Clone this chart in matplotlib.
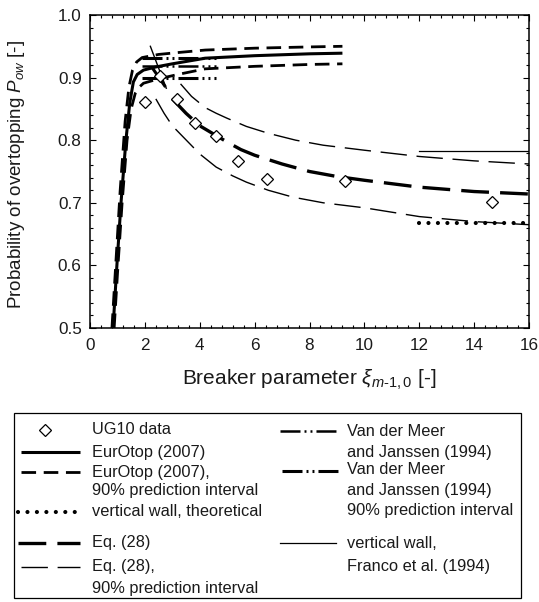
import matplotlib
matplotlib.use('Agg')
import matplotlib.pyplot as plt
from matplotlib.lines import Line2D
from matplotlib.patches import Rectangle
from matplotlib.ticker import MultipleLocator, FormatStrFormatter

plt.rcParams['font.family'] = ['Liberation Sans', 'DejaVu Sans']
plt.rcParams['mathtext.fontset'] = 'custom'
plt.rcParams['mathtext.rm'] = 'Liberation Sans'
plt.rcParams['mathtext.it'] = 'Liberation Sans:italic'
plt.rcParams['lines.scale_dashes'] = False

TXT = "#1a1a1a"

# --- data ---
ug10_x = [2.0, 2.55, 3.17, 3.83, 4.6, 5.4, 6.45, 9.3, 14.65]
ug10_y = [0.861, 0.903, 0.866, 0.827, 0.807, 0.767, 0.738, 0.735, 0.701]

# EurOtop (2007) central + 90% interval
euro_x = [0.84, 0.98, 1.13, 1.31, 1.45, 1.58, 1.72, 1.95, 2.4, 3.0, 4.2, 6.0, 8.0, 9.2]
euro_y = [0.50, 0.60, 0.70, 0.80, 0.86, 0.893, 0.905, 0.912, 0.917, 0.922, 0.931, 0.935, 0.938, 0.939]
euro_up_x = [0.80, 0.95, 1.10, 1.28, 1.42, 1.55, 1.70, 1.90, 2.5, 3.2, 4.2, 6.0, 8.0, 9.2]
euro_up_y = [0.50, 0.61, 0.72, 0.83, 0.885, 0.912, 0.925, 0.932, 0.937, 0.940, 0.944, 0.947, 0.949, 0.950]
euro_lo_x = [0.88, 1.02, 1.17, 1.35, 1.50, 1.65, 1.80, 1.95, 2.5, 3.2, 4.2, 6.0, 8.0, 9.2]
euro_lo_y = [0.50, 0.60, 0.70, 0.80, 0.85, 0.875, 0.885, 0.891, 0.898, 0.905, 0.914, 0.918, 0.921, 0.922]

# vertical wall, theoretical / Franco et al. (1994)
wall_x = [12, 16]
wall_theory_y = [0.668, 0.668]
wall_franco_y = [0.783, 0.783]

# Eq. (28) central + 90% interval
eq28_x = [3.0, 3.5, 4.0, 4.5, 5.0, 5.5, 6.0, 7.0, 8.0, 9.0, 10, 12, 14, 16]
eq28_y = [0.866, 0.843, 0.823, 0.810, 0.797, 0.785, 0.776, 0.762, 0.750, 0.742, 0.736, 0.725, 0.718, 0.714]
eq28_up_x = [3.3, 3.7, 4.2, 4.6, 5.0, 5.7, 6.5, 7.5, 8.5, 10, 12, 14, 16]
eq28_up_y = [0.890, 0.870, 0.852, 0.843, 0.835, 0.822, 0.811, 0.800, 0.792, 0.784, 0.774, 0.767, 0.762]
eq28_lo_x = [2.4, 2.7, 3.0, 3.4, 4.0, 4.6, 5.2, 5.7, 6.5, 7.4, 8.5, 10, 12, 14, 16]
eq28_lo_y = [0.866, 0.843, 0.823, 0.805, 0.778, 0.757, 0.743, 0.733, 0.720, 0.709, 0.700, 0.692, 0.678, 0.670, 0.665]

# Van der Meer and Janssen (1994) central + 90% interval
vdm_x = [1.9, 4.6]
vdm_y = [0.918, 0.918]
vdm_up_y = [0.932, 0.932]
vdm_lo_y = [0.900, 0.900]
vdm_fall_x = [2.2, 2.78]
vdm_fall_y = [0.950, 0.883]
vdm_fall2_x = [2.28, 2.72]
vdm_fall2_y = [0.915, 0.887]

# --- line styles ---
S_EURO = dict(color='k', lw=2.2, solid_capstyle='butt')
S_EURO_CI = dict(color='k', lw=2.0, dashes=(10.5, 5.5))
S_DOT = dict(color='k', lw=3.0, dashes=(0.01, 6.8), dash_capstyle='round')
S_EQ = dict(color='k', lw=2.4, dashes=(20, 8))
S_EQ_CI = dict(color='k', lw=1.0, dashes=(19, 7))
S_VDM = dict(color='k', lw=1.8, dashes=(14.4, 2.9, 1.4, 2.9, 1.4, 2.9))
S_VDM_CI = dict(color='k', lw=2.2, dashes=(14.4, 2.9, 1.4, 2.9, 1.4, 2.9))
S_FRANCO = dict(color='k', lw=0.9)
S_DIAM = dict(ls='none', marker='D', ms=6.2, mfc='white', mec='k', mew=0.9)

W, H = 539, 602
fig = plt.figure(figsize=(W / 100, H / 100), dpi=100)
ax = fig.add_axes([90 / W, 1 - 328 / H, 439 / W, 313 / H])

ax.plot(euro_up_x, euro_up_y, **S_EURO_CI)
ax.plot(euro_lo_x, euro_lo_y, **S_EURO_CI)
ax.plot(euro_x, euro_y, **S_EURO)
ax.plot(vdm_x, vdm_y, **S_VDM)
ax.plot(vdm_x, vdm_up_y, **S_VDM_CI)
ax.plot(vdm_x, vdm_lo_y, **S_VDM_CI)
ax.plot(vdm_fall_x, vdm_fall_y, color='k', lw=1.0)
ax.plot(vdm_fall2_x, vdm_fall2_y, color='k', lw=2.2)
ax.plot(eq28_x, eq28_y, **S_EQ)
ax.plot(eq28_up_x, eq28_up_y, **S_EQ_CI)
ax.plot(eq28_lo_x, eq28_lo_y, **S_EQ_CI)
ax.plot(wall_x, wall_franco_y, **S_FRANCO)
ax.plot(wall_x, wall_theory_y, **S_DOT)
ax.plot(ug10_x, ug10_y, zorder=5, **S_DIAM)

ax.set_xlim(0, 16)
ax.set_ylim(0.5, 1.0)
ax.xaxis.set_major_locator(MultipleLocator(2))
ax.xaxis.set_minor_locator(MultipleLocator(0.4))
ax.yaxis.set_major_locator(MultipleLocator(0.1))
ax.yaxis.set_minor_locator(MultipleLocator(0.02))
ax.yaxis.set_major_formatter(FormatStrFormatter('%.1f'))
ax.tick_params(which='both', direction='in', top=True, right=True,
               colors='k', labelcolor=TXT, labelsize=12.3, width=0.8)
ax.tick_params(which='major', length=4.5)
ax.tick_params(which='minor', length=2.5)
ax.tick_params(axis='x', pad=7)
ax.tick_params(axis='y', pad=6)
for sp in ax.spines.values():
    sp.set_linewidth(1.1)

ax.set_xlabel(r'Breaker parameter $\xi_{m\text{-}1,0}$ [-]', fontsize=15, color=TXT, va='top')
ax.xaxis.set_label_coords(0.5, -0.128)
ax.set_ylabel(r'Probability of overtopping $P_{ow}$ [-]', fontsize=13.5, color=TXT, va='bottom')
ax.yaxis.set_label_coords(-0.143, 0.49)

# --- legend box drawn below the axes ---
def fx(px):
    return px / W

def fy(py):
    return 1 - py / H

fig.add_artist(Rectangle((fx(14), fy(598)), fx(521) - fx(14), fy(413) - fy(598),
                         transform=fig.transFigure, fill=False, lw=0.9, ec='k'))

def handle(x1, x2, y, style):
    fig.add_artist(Line2D([fx(x1), fx(x2)], [fy(y), fy(y)], transform=fig.transFigure, **style))

def label(x, y, s):
    fig.text(fx(x), fy(y), s, fontsize=11.8, color=TXT, ha='left', va='center')

fig.add_artist(Line2D([fx(45)], [fy(430)], transform=fig.transFigure, **S_DIAM))
label(92, 430, 'UG10 data')
handle(21, 80, 452, S_EURO)
label(92, 452, 'EurOtop (2007)')
handle(21, 80, 472, S_EURO_CI)
label(92, 472, 'EurOtop (2007),')
label(92, 491, '90% prediction interval')
handle(18, 82, 512, S_DOT)
label(92, 512, 'vertical wall, theoretical')
handle(18, 80, 543, S_EQ)
label(92, 543, 'Eq. (28)')
handle(21, 80, 567, S_EQ_CI)
label(92, 567, 'Eq. (28),')
label(92, 588, '90% prediction interval')

handle(280, 336, 431, S_VDM)
label(347, 431, 'Van der Meer')
label(347, 452, 'and Janssen (1994)')
handle(282, 338, 471, S_VDM_CI)
label(347, 470, 'Van der Meer')
label(347, 490, 'and Janssen (1994)')
label(347, 510, '90% prediction interval')
handle(280, 336, 543, S_FRANCO)
label(347, 543, 'vertical wall,')
label(347, 567, 'Franco et al. (1994)')

fig.savefig('out.png', dpi=100)
